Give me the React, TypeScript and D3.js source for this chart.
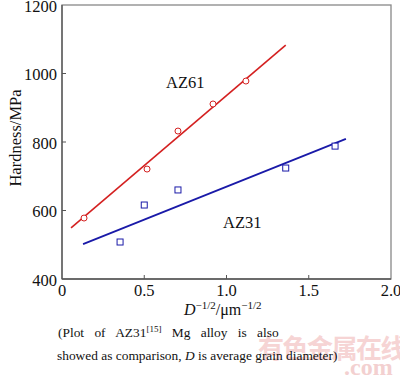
import React from "react";
import * as d3 from "d3";

const az61X = [0.134, 0.517, 0.705, 0.918, 1.118];
const az61Y = [578, 721, 832, 911, 978];
const az31X = [0.353, 0.5, 0.705, 1.36, 1.66];
const az31Y = [508, 616, 660, 724, 788];
const az61FitX = [0.055, 1.36];
const az61FitY = [549, 1083];
const az31FitX = [0.128, 1.726];
const az31FitY = [502, 809];
const xTicks = [0, 0.5, 1.0, 1.5, 2.0];
const xTickLabels = ["0", "0.5", "1.0", "1.5", "2.0"];
const yTicks = [400, 600, 800, 1000, 1200];

const W = 400;
const H = 378;
const serif = "'Liberation Serif', 'Times New Roman', serif";

export default function App() {
  const x = d3.scaleLinear().domain([0, 2]).range([62, 391]);
  const y = d3.scaleLinear().domain([400, 1200]).range([279, 5]);
  const line = d3
    .line<[number, number]>()
    .x((d) => x(d[0]))
    .y((d) => y(d[1]));
  const red = "#d42020";
  const blue = "#1a1aa8";
  const fit61 = az61FitX.map((v, i) => [v, az61FitY[i]] as [number, number]);
  const fit31 = az31FitX.map((v, i) => [v, az31FitY[i]] as [number, number]);
  const x0 = x(0), x1 = x(2), y0 = y(400), y1 = y(1200);
  return (
    <svg
      width={W}
      height={H}
      style={{ position: "absolute", left: 0, top: 0, background: "#fff" }}
      fontFamily={serif}
    >
      <rect x={0} y={0} width={W} height={H} fill="#fff" />
      {/* watermark */}
      <text x={258} y={358} fontSize={26} fontWeight="bold" fill="#f6d4d4" fontFamily="'Noto Sans CJK SC', sans-serif" letterSpacing={-1.5}>
        有色金属在线
      </text>
      <text x={344} y={375} fontSize={24} fontWeight="bold" fill="#f3d0d0" fontFamily={serif}>
        .com
      </text>
      {/* frame */}
      <rect x={x0} y={y1} width={x1 - x0} height={y0 - y1} fill="none" stroke="#888" strokeWidth={1.3} />
      <line x1={x0} x2={x0} y1={y1} y2={y0} stroke="#555" strokeWidth={1.3} />
      <line x1={x0} x2={x1} y1={y0} y2={y0} stroke="#555" strokeWidth={1.3} />
      {/* ticks */}
      {xTicks.map((t, i) => (
        <g key={"xt" + i}>
          {i > 0 && i < xTicks.length - 1 && (
            <line x1={x(t)} x2={x(t)} y1={y0} y2={y0 - 4} stroke="#555" strokeWidth={1} />
          )}
          <text x={x(t)} y={296} fontSize={16.5} textAnchor="middle" fill="#111">
            {xTickLabels[i]}
          </text>
        </g>
      ))}
      {yTicks.map((t, i) => (
        <g key={"yt" + i}>
          {i > 0 && i < yTicks.length - 1 && (
            <line x1={x0} x2={x0 + 4} y1={y(t)} y2={y(t)} stroke="#555" strokeWidth={1} />
          )}
          <text x={57} y={y(t) + 6.5} fontSize={16.5} textAnchor="end" fill="#111">
            {t}
          </text>
        </g>
      ))}
      {/* axis titles */}
      <text x={184} y={315} fontSize={16} fill="#111">
        <tspan fontStyle="italic">D</tspan>
        <tspan dy={-6} fontSize={11}>−1/2</tspan>
        <tspan dy={6}>/μm</tspan>
        <tspan dy={-6} fontSize={11}>−1/2</tspan>
      </text>
      <text
        transform="translate(21,138) rotate(-90)"
        fontSize={16.5}
        textAnchor="middle"
        fill="#111"
      >
        Hardness/MPa
      </text>
      {/* fit lines */}
      <path d={line(fit61) || ""} fill="none" stroke={red} strokeWidth={1.6} />
      <path d={line(fit31) || ""} fill="none" stroke={blue} strokeWidth={1.8} />
      {/* points */}
      {az61X.map((v, i) => (
        <circle key={"c" + i} cx={x(v)} cy={y(az61Y[i])} r={3} fill="#fff" stroke={red} strokeWidth={1} />
      ))}
      {az31X.map((v, i) => (
        <rect
          key={"s" + i}
          x={x(v) - 3}
          y={y(az31Y[i]) - 3}
          width={6}
          height={6}
          fill="#fff"
          stroke={blue}
          strokeWidth={1}
        />
      ))}
      {/* labels */}
      <text x={166} y={88} fontSize={16.5} fill="#111">AZ61</text>
      <text x={223} y={228} fontSize={16.5} fill="#111">AZ31</text>
      {/* caption */}
      <text x={58} y={337} fontSize={13.4} fill="#111" wordSpacing={7}>
        (Plot of AZ31<tspan dy={-5} fontSize={9}>[15]</tspan>
        <tspan dy={5}> Mg alloy is also</tspan>
      </text>
      <text x={57} y={360} fontSize={13.4} fill="#111">
        showed as comparison, <tspan fontStyle="italic">D</tspan> is average grain diameter)
      </text>
    </svg>
  );
}
